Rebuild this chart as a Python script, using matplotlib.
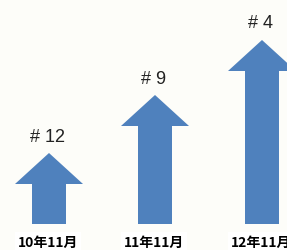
from matplotlib import pyplot as plt

labels = ['10年11月', '11年11月', '12年11月']
ranks = ['# 12', '# 9', '# 4']
heights = [71, 129, 184]
xpos = [49, 155, 262]

fig = plt.figure(figsize=(2.87, 2.51), dpi=100)
fig.patch.set_facecolor('#fdfdf9')
ax = fig.add_axes([0, 0, 1, 1])
ax.set_facecolor('#fdfdf9')
ax.set_xlim(0, 287)
ax.set_ylim(-26, 225)
ax.axis('off')

for x, h, r, lab in zip(xpos, heights, ranks, labels):
    ax.arrow(x, 0, 0, h, width=34, head_width=68, head_length=31,
             length_includes_head=True, color='#4f81bd', lw=0)
    ax.text(x - 1, h + 17, r, ha='center', va='center', fontsize=13,
            family=['Liberation Sans', 'DejaVu Sans'], color='#222222')
    ax.text(x - 1, -18, lab, ha='center', va='center', fontsize=10,
            fontweight='bold', family=['Noto Sans CJK JP', 'DejaVu Sans'],
            color='black',
            bbox=dict(facecolor='white', edgecolor='none', pad=2))

fig.savefig('out.png', dpi=100, facecolor=fig.get_facecolor())
